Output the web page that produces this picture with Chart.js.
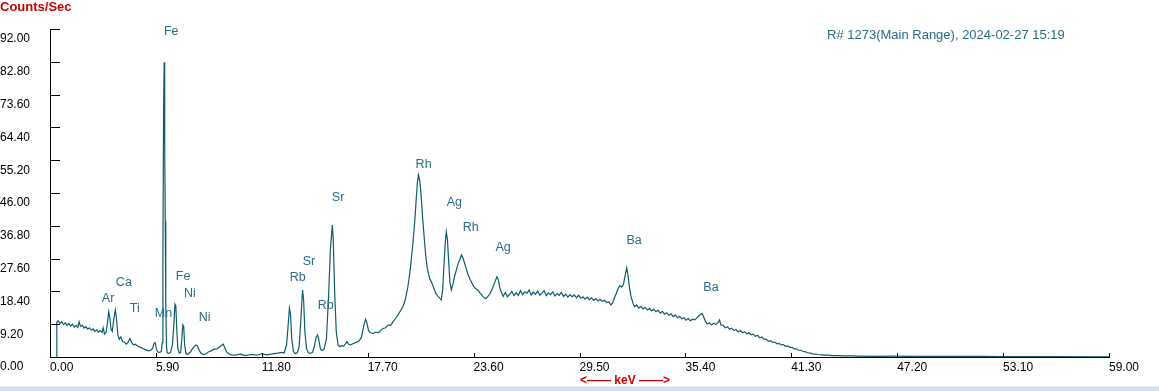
<!DOCTYPE html>
<html>
<head>
<meta charset="utf-8">
<script src="https://cdn.jsdelivr.net/npm/chart.js@4.4.1/dist/chart.umd.min.js"></script>
<style>
body{margin:0;background:#fff;}
#wrap{position:relative;width:1159px;height:391px;overflow:hidden;}
#strip{position:absolute;left:0;bottom:0;width:1159px;height:4px;background:#d3e2f2;border-top:1px solid #e6eef8;}
</style>
</head>
<body>
<div id="wrap">
<canvas id="myChart" width="1159" height="391"></canvas>
<div id="strip"></div>
</div>
<script>
// tick values of both axes
var yTicks = [0, 9.2, 18.4, 27.6, 36.8, 46, 55.2, 64.4, 73.6, 82.8, 92];
var xTicks = [0, 5.9, 11.8, 17.7, 23.6, 29.5, 35.4, 41.3, 47.2, 53.1, 59];

// spectrum, keV / counts per second
// 0.4 - 10 keV (Ar, Ca, Ti, Mn, Fe, Ni)
var kevLow = [0.37,0.38,0.45,0.55,0.65,0.75,0.85,0.95,1.05,1.15,1.25,1.35,1.45,1.55,1.62,1.70,1.80,1.90,2.00,2.10,2.20,2.30,2.40,2.50,2.60,2.70,2.80,2.90,2.96,3.04,3.12,3.20,3.27,3.33,3.40,3.47,3.55,3.64,3.70,3.78,3.86,3.95,4.05,4.15,4.25,4.35,4.45,4.55,4.65,4.75,4.90,5.05,5.20,5.35,5.50,5.62,5.72,5.80,5.86,5.93,6.00,6.10,6.20,6.25,6.29,6.33,6.36,6.38,6.40,6.42,6.45,6.49,6.53,6.62,6.72,6.82,6.90,6.96,7.01,7.06,7.12,7.20,7.28,7.34,7.40,7.45,7.50,7.57,7.65,7.75,7.85,7.95,8.05,8.12,8.20,8.30,8.40,8.55,8.70,8.85,9.00,9.15,9.30,9.45,9.58,9.65,9.72,9.82,9.95,10.10];
var cpsLow = [0,9.8,10.2,9.4,9.9,9.1,9.6,8.9,9.4,8.7,9.2,8.4,8.9,8.3,9.9,8.6,8.9,8.1,8.5,7.8,8.2,7.5,7.9,7.2,7.6,7.0,7.4,6.9,8.2,6.4,6.8,9.5,12.7,11.2,7.8,7.2,10.5,13.2,11.0,6.2,5.0,5.6,4.3,4.2,3.6,4.1,5.2,4.0,3.4,3.6,3.0,2.7,2.3,2.0,1.7,1.9,2.5,3.9,4.0,2.2,1.4,1.3,1.5,4,30,70,82.7,79,60,38,15,3,1.2,1.0,1.3,3.5,9,14.8,14.3,8,2.5,1.1,1.3,5,9.0,8.5,3.5,1.0,0.7,1.0,1.6,2.4,3.0,3.4,3.2,2.0,1.1,0.7,0.9,1.5,1.8,2.2,2.3,2.8,3.4,3.6,2.8,1.6,0.9,0.6];

// 10 - 25 keV (Rb, Sr, Rh, Ag)
var kevMid = [10.30,10.60,10.90,11.20,11.50,11.80,12.10,12.40,12.70,12.90,13.05,13.18,13.27,13.34,13.40,13.47,13.56,13.66,13.78,13.88,13.97,14.07,14.13,14.20,14.30,14.40,14.50,14.62,14.72,14.82,14.90,14.97,15.07,15.17,15.27,15.40,15.52,15.62,15.73,15.78,15.86,15.95,16.05,16.15,16.25,16.35,16.45,16.55,16.65,16.75,16.90,17.05,17.20,17.35,17.47,17.58,17.66,17.75,17.85,17.99,18.15,18.30,18.45,18.55,18.70,18.85,18.98,19.11,19.25,19.40,19.55,19.66,19.80,19.94,20.08,20.22,20.32,20.40,20.47,20.53,20.60,20.67,20.76,20.86,20.95,21.04,21.15,21.25,21.32,21.42,21.52,21.62,21.71,21.80,21.88,21.95,22.02,22.08,22.14,22.21,22.28,22.36,22.45,22.55,22.64,22.74,22.84,22.92,23.00,23.10,23.20,23.30,23.40,23.47,23.58,23.70,23.84,23.95,24.05,24.15,24.25,24.31,24.40,24.52,24.65,24.78,24.90,24.98,25.06,25.14];
var cpsMid = [0.5,0.8,0.4,0.7,0.5,0.9,0.6,0.9,1.1,1.3,1.2,3.5,9,13.7,12,5,1.6,1.0,1.2,3,10,18.8,16,7,2.2,1.2,1.0,1.3,2.8,5.5,6.2,5.0,2.2,1.8,2.2,5,17,30,37.0,33,18,7,3.4,2.9,3.2,3.0,3.6,4.3,3.5,3.4,3.8,4.1,4.4,5.5,8.5,10.6,9.5,7.4,6.8,6.6,7.0,6.8,7.6,8.0,8.2,9.0,8.8,9.9,10.8,11.9,13.2,14.1,16.2,19.7,25,31.9,38,44.0,49,51.1,49.5,45.9,39,32.8,27.5,24.4,22.0,21.0,20.2,18.8,17.6,17.0,16.5,16.0,19,26,32,35.1,33,27,21,18.8,20.5,22.8,24.4,26.2,27.4,28.6,27.9,26.3,24.6,23.0,21.8,21.1,20.0,19.2,18.8,18.0,17.4,16.8,16.4,16.5,17.0,17.8,19.2,21.0,22.5,21.6,19.4,18.3];

// 25 - 59 keV (plateau, Ba, tail)
var kevHigh = [25.25,25.37,25.49,25.61,25.73,25.85,25.97,26.09,26.21,26.33,26.45,26.57,26.69,26.81,26.93,27.05,27.17,27.29,27.41,27.53,27.65,27.77,27.89,28.01,28.13,28.25,28.37,28.49,28.61,28.73,28.85,28.97,29.09,29.21,29.33,29.45,29.57,29.69,29.81,29.93,30.05,30.17,30.29,30.41,30.53,30.65,30.77,30.89,31.01,31.13,31.25,31.35,31.45,31.55,31.65,31.75,31.85,31.95,32.04,32.13,32.20,32.28,32.36,32.46,32.56,32.68,32.80,32.92,33.04,33.16,33.28,33.40,33.52,33.64,33.76,33.88,34.00,34.12,34.24,34.36,34.48,34.60,34.72,34.84,34.96,35.08,35.20,35.32,35.44,35.56,35.68,35.80,35.92,36.04,36.14,36.24,36.33,36.42,36.52,36.62,36.74,36.86,36.98,37.10,37.22,37.30,37.38,37.50,37.62,37.74,37.86,37.98,38.10,38.22,38.34,38.46,38.58,38.70,38.82,38.94,39.06,39.18,39.30,39.42,39.54,39.66,39.78,39.90,40.02,40.14,40.26,40.38,40.50,40.62,40.74,40.86,40.98,41.10,41.22,41.34,41.46,41.58,41.70,41.82,41.94,42.06,42.20,42.35,42.50,42.65,42.80,43.00,43.20,43.40,43.60,43.90,44.20,44.60,45.00,46.00,47.00,48.00,49.00,50.00,51.00,52.00,53.00,54.00,56.00,58.00,59.00];
var cpsHigh = [17.0,18.1,16.9,17.6,18.4,17.2,18.0,17.3,18.6,17.5,18.3,17.9,18.8,17.4,18.2,17.6,18.5,17.3,17.9,18.6,17.2,18.0,17.5,18.3,17.1,17.8,17.3,18.1,17.0,17.6,16.8,17.5,16.9,17.4,16.6,17.3,16.5,16.9,16.2,16.8,16.0,16.6,15.9,16.4,15.7,16.2,15.6,15.9,15.3,15.5,14.6,15.2,16.6,17.8,19.2,20.0,19.6,20.4,22.8,25.0,23.0,19.6,17.2,15.4,14.1,14.6,13.7,14.2,13.5,13.9,13.2,13.6,12.9,13.4,12.7,13.1,12.3,12.8,12.0,12.4,11.7,12.1,11.3,11.8,11.0,11.4,10.7,11.0,10.3,10.8,10.2,10.6,10.4,10.9,11.5,11.9,12.2,11.2,10.0,9.2,9.6,9.0,9.5,9.1,9.7,10.4,9.0,8.9,8.2,8.5,7.8,8.1,7.4,7.7,7.0,7.4,6.8,7.1,6.5,6.8,6.2,6.4,5.8,6.1,5.4,5.6,5.0,5.0,4.4,4.6,4.1,4.2,3.7,3.8,3.4,3.5,3.0,3.1,2.7,2.7,2.3,2.3,1.9,1.9,1.6,1.5,1.2,1.1,0.9,0.8,0.7,0.6,0.5,0.5,0.4,0.4,0.3,0.3,0.25,0.2,0.25,0.2,0.2,0.15,0.2,0.15,0.1,0.1,0.1,0.05,0.05];

// peak names and where their labels sit (keV, counts)
var peakNames = ["Ar","Ca","Ti","Mn","Fe","Fe","Ni","Ni","Rb","Sr","Rb","Sr","Rh","Ag","Rh","Ag","Ba","Ba"];
var peakKev = [2.89,3.67,4.45,5.84,6.35,7.01,7.46,8.29,13.36,14.08,14.92,15.70,20.37,22.10,22.99,24.82,32.12,36.40];
var peakCps = [16.3,21.0,13.5,12.3,91.4,22.7,17.7,11.2,22.2,26.9,14.3,44.6,53.9,43.2,36.2,30.6,32.8,19.6];

var runInfo = "R# 1273(Main Range), 2024-02-27 15:19";

function crearPuntos(){
	var kev = kevLow.concat(kevMid, kevHigh);
	var cps = cpsLow.concat(cpsMid, cpsHigh);
	var pts = [];
	for(var i = 0;i<kev.length;i++){
		pts.push({x: kev[i], y: cps[i]});
	}
	return pts;
}

var FONT = "'Liberation Sans', Arial, sans-serif";

var textosPlugin = {
	id: 'textos',
	afterDraw: function(chart){
		var ctx = chart.ctx;
		var area = chart.chartArea;
		var sx = chart.scales.x, sy = chart.scales.y;
		ctx.save();
		// inward tick marks
		ctx.strokeStyle = '#000';
		ctx.lineWidth = 1;
		ctx.beginPath();
		for(var i = 0;i<yTicks.length;i++){
			var py = Math.round(sy.getPixelForValue(yTicks[i])) + 0.5;
			ctx.moveTo(area.left, py);
			ctx.lineTo(area.left + 10, py);
		}
		for(var j = 0;j<xTicks.length;j++){
			var px = Math.round(sx.getPixelForValue(xTicks[j])) + 0.5;
			ctx.moveTo(px, area.bottom);
			ctx.lineTo(px, area.bottom - 4);
		}
		ctx.stroke();
		// peak labels
		ctx.fillStyle = '#2b6d86';
		ctx.font = "12.5px " + FONT;
		ctx.textAlign = 'left';
		ctx.textBaseline = 'middle';
		for(var k = 0;k<peakNames.length;k++){
			ctx.fillText(peakNames[k], sx.getPixelForValue(peakKev[k]), sy.getPixelForValue(peakCps[k]));
		}
		ctx.font = "13px " + FONT;
		ctx.fillText(runInfo, 827, 35);
		// titles
		ctx.fillStyle = '#cc0000';
		ctx.font = "bold 13px " + FONT;
		ctx.textBaseline = 'alphabetic';
		ctx.fillText("Counts/Sec", 0, 11);
		ctx.font = "bold 12px " + FONT;
		ctx.textBaseline = 'middle';
		ctx.fillText("<\u2014\u2014 keV \u2014\u2014>", 580, 381);
		ctx.restore();
	}
};

new Chart(document.getElementById("myChart"), {
	type: 'line',
	data: {
		datasets: [{
			data: crearPuntos(),
			borderColor: "#0e5c6c",
			borderWidth: 1.2,
			pointRadius: 0,
			tension: 0,
			fill: false
		}]
	},
	options: {
		responsive: false,
		animation: false,
		layout: { padding: { top: 29, right: 50, bottom: 0, left: 0 } },
		plugins: { legend: { display: false }, tooltip: { enabled: false } },
		scales: {
			x: {
				type: 'linear',
				min: 0,
				max: 59,
				afterBuildTicks: function(s){ s.ticks = xTicks.map(function(v){ return {value: v}; }); },
				afterFit: function(s){ s.height = 34; },
				grid: { display: false, drawTicks: false },
				border: { display: true, color: '#000', width: 1 },
				ticks: {
					align: 'start',
					padding: 3,
					maxRotation: 0,
					autoSkip: false,
					color: '#000',
					font: { family: FONT, size: 12 },
					callback: function(v){ return Number(v).toFixed(2); }
				}
			},
			y: {
				min: 0,
				max: 92,
				afterBuildTicks: function(s){ s.ticks = yTicks.map(function(v){ return {value: v}; }); },
				afterFit: function(s){ s.width = 50; },
				grid: { display: false, drawTicks: false },
				border: { display: true, color: '#000', width: 1 },
				ticks: {
					crossAlign: 'far',
					padding: 13,
					labelOffset: 10,
					autoSkip: false,
					color: '#000',
					font: { family: FONT, size: 12 },
					callback: function(v){ return Number(v).toFixed(2); }
				}
			}
		}
	},
	plugins: [textosPlugin]
});
</script>
</body>
</html>
